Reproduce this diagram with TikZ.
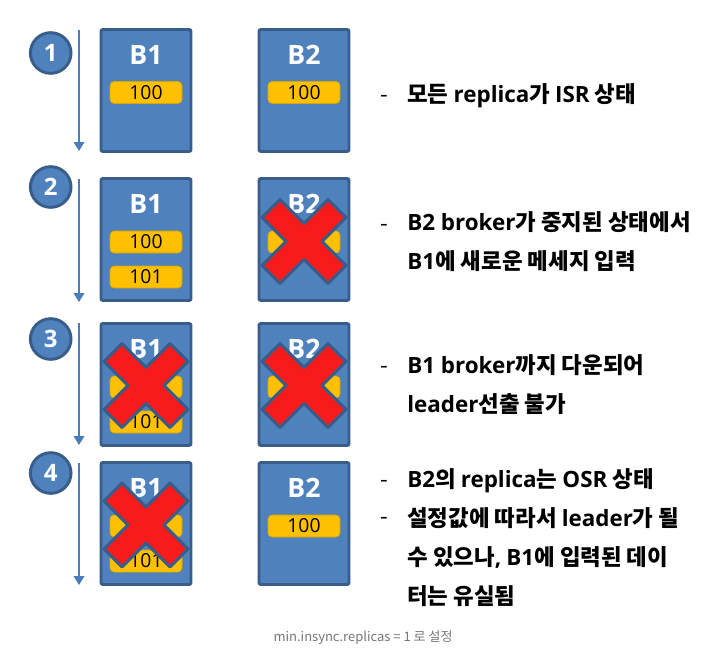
\documentclass[tikz,border=0pt]{standalone}
\usepackage{fontspec}
\setmainfont{Noto Sans CJK KR}
\newfontfamily\lat{Open Sans}[BoldFont={Open Sans Bold}]
\usetikzlibrary{arrows.meta, positioning}
\definecolor{bfill}{HTML}{4F81BD}
\definecolor{bline}{HTML}{385D8A}
\definecolor{mgold}{HTML}{FFC000}
\definecolor{xred}{HTML}{F81B1B}
\definecolor{tline}{HTML}{4A7EBB}
\definecolor{capgray}{HTML}{757575}
\tikzset{
  bbox/.style={draw=bline, fill=bfill, line width=2.2pt, rounded corners=1.5pt,
               minimum width=67.5pt, minimum height=91.5pt, inner sep=0pt},
  blabel/.style={text=white, font=\lat\fontsize{20}{22}\selectfont\bfseries, inner sep=0pt},
  mbar/.style={draw=mgold!85!black, line width=0.4pt, fill=mgold, rounded corners=3pt,
               minimum width=54pt, minimum height=16.5pt, inner sep=0pt,
               font=\lat\fontsize{14.5}{16}\selectfont},
  stepnum/.style={circle, draw=bline, fill=bfill, line width=2.2pt, minimum size=30.5pt,
                  inner sep=0pt, text=white, font=\lat\fontsize{18}{20}\selectfont\bfseries},
  tarr/.style={-{Triangle[length=6.75pt, width=8pt]}, line width=1.1pt, tline},
  xcross/.style={draw=bline, fill=xred, line width=2.2pt, line join=round},
  bullet/.style={anchor=base west, inner sep=0pt, font=\fontsize{16.8}{29.25}\selectfont},
  note/.style={anchor=base west, inner sep=0pt, align=left,
               font=\fontsize{16.8}{29.25}\selectfont\bfseries},
  downx/.pic={
    \draw[xcross] (0,-18) -- (24,-42) -- (42,-24) -- (18,0) -- (42,24) -- (24,42)
      -- (0,18) -- (-24,42) -- (-42,24) -- (-18,0) -- (-42,-24) -- (-24,-42) -- cycle;
  },
}
\begin{document}
\begin{tikzpicture}[x=0.75pt, y=-0.75pt]
  \useasboundingbox (0,0) rectangle (712,665);

  %% step circles and time arrows
  \foreach \n/\cy/\ta/\tb in {1/53/30/151, 2/187/179/302, 3/339/323/445, 4/473/463/585}{
    \node[stepnum] (s\n) at (50.7,\cy) {\n};
    \coordinate (ta\n) at (79,\ta);
    \coordinate (tb\n) at (79,\tb);
    \draw[tarr] (ta\n) -- (tb\n);
  }

  %% Row 1
  \node[bbox] (b1a) at (146,90.5) {};
  \node[blabel] (l1a) at (146,55) {B1};
  \node[mbar] (m1a) at (146,92.5) {100};
  \node[bbox] (b2a) at (304,90.5) {};
  \node[blabel] (l2a) at (304,55) {B2};
  \node[mbar] (m2a) at (304,92.5) {100};

  %% Row 2
  \node[bbox] (b1b) at (146,239.5) {};
  \node[blabel] (l1b) at (146,204) {B1};
  \node[mbar] (m1b) at (146,242) {100};
  \node[mbar] (n1b) at (146,277) {101};
  \node[bbox] (b2b) at (304,239.5) {};
  \node[blabel] (l2b) at (304,204) {B2};
  \node[mbar] (m2b) at (304,242) {100};
  \pic at (304,241.5) {downx};

  %% Row 3
  \node[bbox] (b1c) at (146,384.5) {};
  \node[blabel] (l1c) at (146,349) {B1};
  \node[mbar] (m1c) at (146,387) {100};
  \node[mbar] (n1c) at (146,422) {101};
  \node[bbox] (b2c) at (304,384.5) {};
  \node[blabel] (l2c) at (304,349) {B2};
  \node[mbar] (m2c) at (304,387) {100};
  \pic at (146,385.5) {downx};
  \pic at (304,385.5) {downx};

  %% Row 4
  \node[bbox] (b1d) at (146,523.5) {};
  \node[blabel] (l1d) at (146,488) {B1};
  \node[mbar] (m1d) at (146,526) {100};
  \node[mbar] (n1d) at (146,561) {101};
  \node[bbox] (b2d) at (304,523.5) {};
  \node[blabel] (l2d) at (304,488) {B2};
  \node[mbar] (m2d) at (304,526) {100};
  \pic at (146,525) {downx};

  %% notes (multi-line nodes sit on their last line)
  \node[bullet] (d1) at (380,102) {-};
  \node[note] (t1) at (407,102) {모든 {\lat replica}가 {\lat ISR} 상태};
  \node[bullet] (d2) at (380,231) {-};
  \node[note] (t2) at (407,269) {{\lat B2 broker}가 중지된 상태에서\\{\lat B1}에 새로운 메세지 입력};
  \node[bullet] (d3) at (380,373) {-};
  \node[note] (t3) at (407,412) {{\lat B1 broker}까지 다운되어\\{\lat leader}선출 불가};
  \node[bullet] (d4) at (380,487) {-};
  \node[note] (t4) at (407,487) {{\lat B2}의 {\lat replica}는 {\lat OSR} 상태};
  \node[bullet] (d5) at (380,524) {-};
  \node[note] (t5) at (407,604) {설정값에 따라서 {\lat leader}가 될\\수 있으나{\lat ,} {\lat B1}에 입력된 데이\\터는 유실됨};

  %% caption
  \node[text=capgray, font=\fontsize{9.75}{11}\selectfont] (cap) at (363,638)
    {min.insync.replicas = 1 로 설정};
\end{tikzpicture}
\end{document}
